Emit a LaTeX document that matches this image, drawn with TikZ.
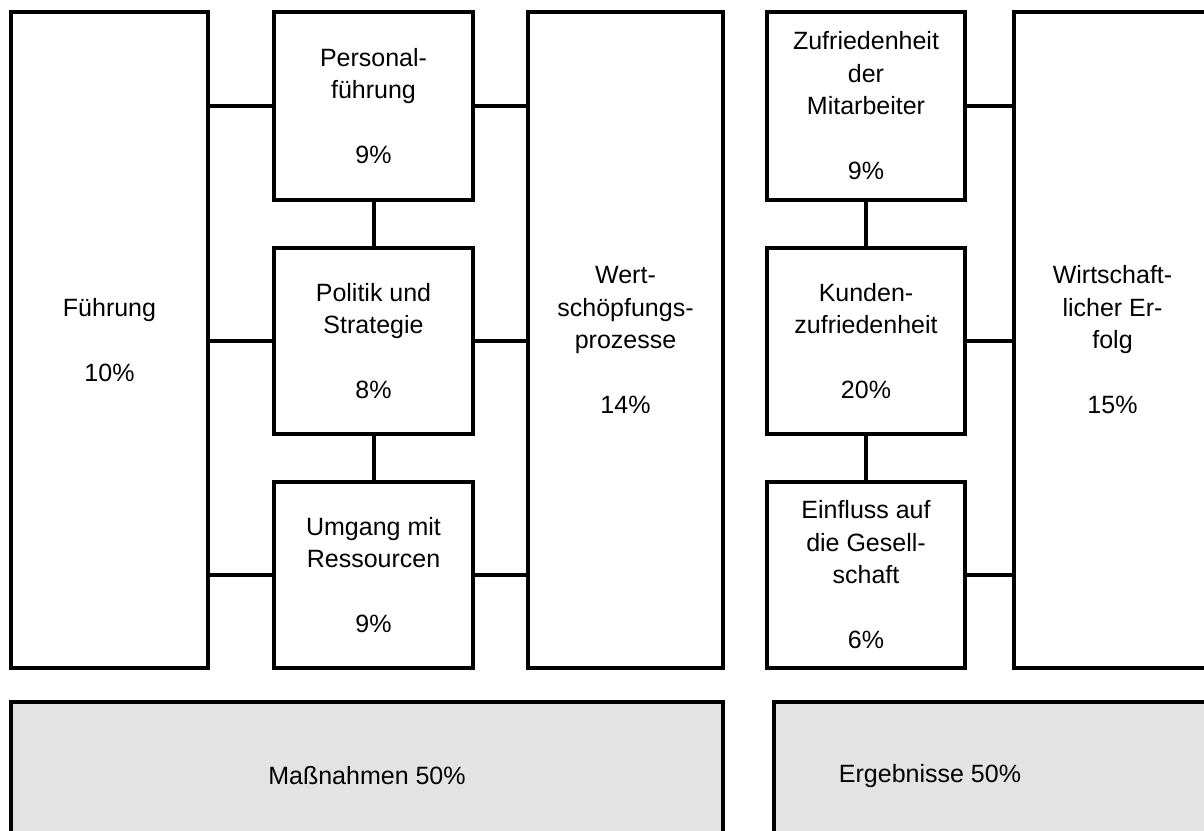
\documentclass[tikz,border=0pt]{standalone}
\usepackage{fontspec}
\setmainfont{Liberation Sans}
\definecolor{panelgray}{RGB}{227,227,227}
\tikzset{
  box/.style={draw=black, line width=4pt, fill=white, rectangle, inner sep=0pt, outer sep=0pt,
              align=center, font=\fontsize{25}{32.5}\selectfont},
  panel/.style={box, fill=panelgray},
  link/.style={draw=black, line width=4pt},
  label/.style={inner sep=0pt, font=\fontsize{25}{32.5}\selectfont}
}
\begin{document}
\begin{tikzpicture}[x=1pt, y=-1pt]
\useasboundingbox (0,0) rectangle (1204,830);

% Befähiger (left half)
\node[box, minimum width=197, minimum height=656] (fuehrung) at (109.5,340)
  {Führung\\[32.5pt]10\%};
\node[box, minimum width=199, minimum height=188] (personal) at (373.5,106)
  {Personal-\\führung\\[32.5pt]9\%};
\node[box, minimum width=199, minimum height=186] (politik) at (373.5,341)
  {Politik und\\Strategie\\[32.5pt]8\%};
\node[box, minimum width=199, minimum height=186] (umgang) at (373.5,575)
  {Umgang mit\\Ressourcen\\[32.5pt]9\%};
\node[box, minimum width=195, minimum height=656] (wert) at (625.5,340)
  {Wert-\\schöpfungs-\\prozesse\\[32.5pt]14\%};

% Ergebnisse (right half)
\node[box, minimum width=198, minimum height=188] (zufr) at (866,106)
  {Zufriedenheit\\der\\Mitarbeiter\\[32.5pt]9\%};
\node[box, minimum width=198, minimum height=186] (kunden) at (866,341)
  {Kunden-\\zufriedenheit\\[32.5pt]20\%};
\node[box, minimum width=198, minimum height=186] (einfluss) at (866,575)
  {Einfluss auf\\die Gesell-\\schaft\\[32.5pt]6\%};
\node[box, minimum width=197, minimum height=656] (wirt) at (1112.5,340)
  {Wirtschaft-\\licher Er-\\folg\\[32.5pt]15\%};

% summary panels
\node[panel, minimum width=712, minimum height=148] (massn) at (367,776)
  {Maßnahmen 50\%};
\node[panel, minimum width=460, minimum height=148] (ergeb) at (1004,776) {};
\node[label] (ergebtext) at (930,776) {Ergebnisse 50\%};

% connectors
\draw[link] (fuehrung.east |- personal) -- (personal.west);
\draw[link] (fuehrung.east |- politik) -- (politik.west);
\draw[link] (fuehrung.east |- umgang) -- (umgang.west);
\draw[link] (personal.east) -- (wert.west |- personal);
\draw[link] (politik.east) -- (wert.west |- politik);
\draw[link] (umgang.east) -- (wert.west |- umgang);
\draw[link] (personal.south) -- (politik.north);
\draw[link] (politik.south) -- (umgang.north);

\draw[link] (zufr.east) -- (wirt.west |- zufr);
\draw[link] (kunden.east) -- (wirt.west |- kunden);
\draw[link] (einfluss.east) -- (wirt.west |- einfluss);
\draw[link] (zufr.south) -- (kunden.north);
\draw[link] (kunden.south) -- (einfluss.north);
\end{tikzpicture}
\end{document}
